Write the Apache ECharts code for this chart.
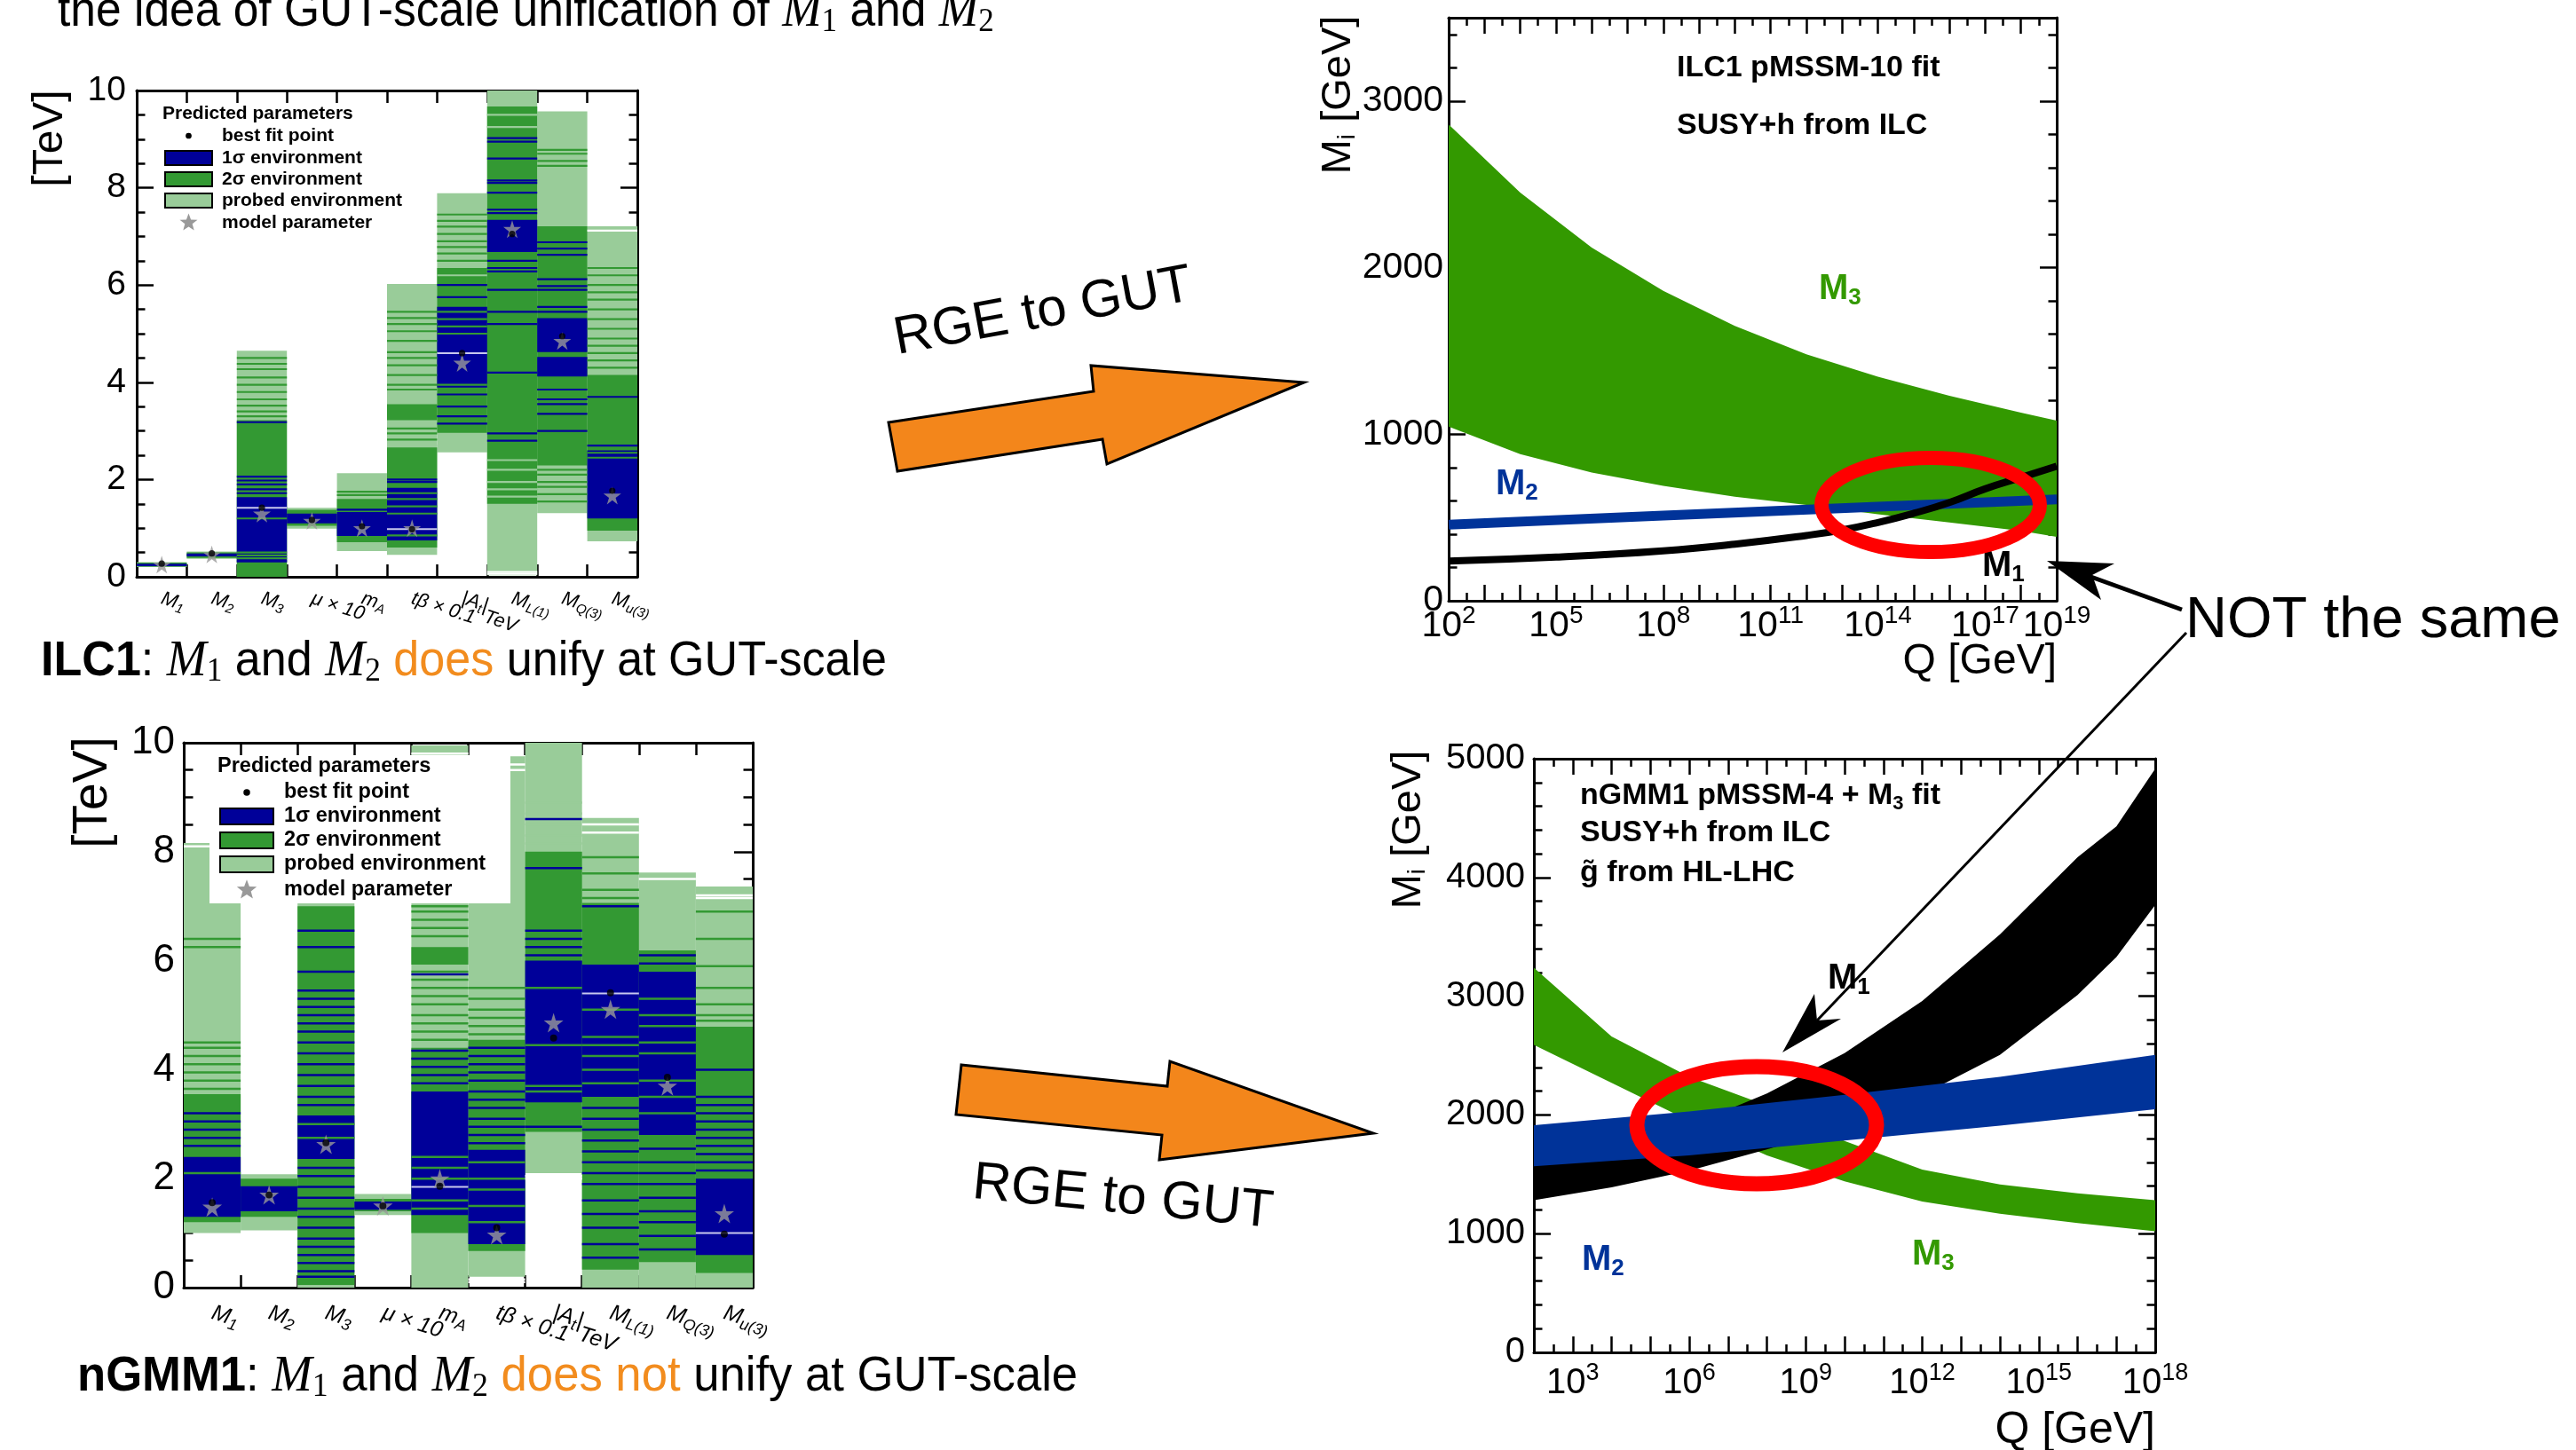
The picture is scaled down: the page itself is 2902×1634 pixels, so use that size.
<!DOCTYPE html>
<html>
<head>
<meta charset="utf-8">
<script src="https://cdn.jsdelivr.net/npm/echarts@6/dist/echarts.min.js"></script>
<style>
html, body { margin: 0; padding: 0; background: #fff; }
#main { width: 2902px; height: 1634px; }
</style>
</head>
<body>
<div id="main"></div>
<script>
const SANS = 'Liberation Sans'
const SERIF = 'Liberation Serif'

// parameter names on the bar charts
const barLabels = ['{i|M}{s|1}', '{i|M}{s|2}', '{i|M}{s|3}', '{i|μ × 10}', '{i|m}{s|A}', '{i|tβ × 0.1}',
    '{i||A}{s|t}{i||}{d|TeV}', '{i|M}{s|L(1)}', '{i|M}{s|Q(3)}', '{i|M}{s|u(3)}']

// ILC1 predicted parameters [TeV] : [column, low, high]
const ilcProbed = [[0,0.20,0.30],[1,0.37,0.52],[2,0.00,4.65],[3,0.99,1.42],[4,0.53,2.13],[5,0.45,6.02],[6,2.56,7.89],[7,0.03,10.0],[8,1.31,9.57],[9,0.73,7.21]]
const ilcSigma2 = [[0,0.21,0.29],[1,0.39,0.50],[2,0.00,3.22],[3,1.05,1.38],[4,0.71,1.60],[5,0.60,2.66],[5,3.22,3.55],[6,2.96,6.35],[7,1.50,9.67],[8,2.29,7.21],[9,0.95,4.15]]
const ilcSigma1 = [[0,0.22,0.27],[1,0.42,0.48],[2,0.30,1.64],[3,1.10,1.30],[4,0.84,1.33],[5,0.75,1.83],[6,3.89,5.55],[7,6.68,7.34],[8,4.12,4.52],[8,4.62,5.32],[9,1.20,2.60]]
// single scan lines inside the environments, per column
const ilcBlueLines = [[], [], [3.18,2.06,1.98,1.90,1.80,1.72,0.32], [], [1.38], [2.00,1.95],
    [6.00,5.75,3.75,3.50,3.30,3.15],
    [9.02,8.95,8.60,8.15,8.10,7.90,7.55,7.48,6.50,6.35,6.28,5.90,5.45,5.20,4.20,2.95,2.80],
    [6.88,6.75,6.62,6.12,5.98,5.90,5.55,5.45,3.85,3.65,3.55,3.35,3.00], [3.70,2.70]]
const ilcGreenLines = [[], [], [4.50,4.38,4.27,4.10,3.95,3.80,3.65,3.52,3.40,3.30,1.20,0.50,0.44,0.38], [], [1.75,1.68],
    [5.45,5.32,5.20,5.05,4.85,4.62,4.50,4.35,4.15,3.95,3.85,3.05,2.95,2.82,1.72,1.60,1.45,1.30,0.85],
    [7.45,7.32,7.20,7.05,6.90,6.78,6.65,6.50,5.45,5.30,5.15,5.00,3.95], [],
    [8.78,8.70,8.55,8.45,2.20,2.10,1.95,1.85,1.70,1.55],
    [6.35,6.20,6.00,5.85,5.70,5.50,5.30,5.10,4.90,4.75,4.60,4.45,4.30,2.55,2.45]]
const ilcLightLines = [[], [], [], [], [], [2.70], [6.20], [9.50,9.25,2.40,2.20,1.95,1.80,1.65], [], []]
const ilcFitLines = [[], [], [1.42], [], [], [0.98], [4.60], [], [], []]
const ilcGapLines = [[], [], [], [], [], [], [], [0.10,0.06], [], [7.12]]
const ilcBest = [0.27, 0.48, 1.42, 1.17, 1.04, 0.98, 4.60, 7.05, 4.95, 1.77]
const ilcModel = [0.25, 0.46, 1.30, 1.15, 1.00, 1.00, 4.40, 7.15, 4.85, 1.67]

// nGMM1 predicted parameters [TeV]
const ngmProbed = [[0,1.00,8.16],[1,1.05,2.08],[2,0.00,7.10],[3,1.33,1.72],[4,0.00,9.95],[5,0.20,9.75],[6,2.10,10.0],[7,0.00,8.62],[8,0.00,7.62],[9,0.00,7.36]]
const ngmSigma2 = [[0,1.20,3.55],[1,1.30,2.00],[2,0.05,7.00],[3,1.40,1.63],[4,1.00,4.40],[4,5.93,6.25],[5,0.67,4.55],[6,2.86,8.00],[7,0.33,7.06],[8,0.47,6.19],[9,0.27,4.79]]
const ngmSigma1 = [[0,1.30,2.40],[1,1.40,1.86],[2,2.36,3.16],[3,1.43,1.58],[4,1.33,3.60],[5,0.80,2.53],[6,3.40,6.00],[7,3.50,5.93],[8,2.80,5.80],[9,0.60,2.00]]
const ngmBlueLines = [[3.20,3.05,2.90,2.75,2.60], [],
    [6.55,6.25,5.80,5.45,5.30,5.15,5.00,4.85,4.70,4.50,4.30,4.10,3.90,3.70,3.50,3.35,2.20,2.05,1.85,1.65,1.45,1.30,1.10,0.90,0.75,0.60,0.45,0.30,0.20],
    [], [5.75,4.35,4.20,4.05,3.90,3.75],
    [4.40,4.25,4.10,3.95,3.80,3.60,3.45,3.30,3.10,2.95,2.80,2.65],
    [8.60,7.70,6.55,6.40,6.25,6.10,2.95],
    [7.00,3.30,3.10,2.90,2.70,2.50,2.30,2.10,1.90,1.60,1.35,1.10,0.80,0.55],
    [6.10,5.95,2.55,2.30,2.10,1.90,1.65,1.40,1.20,0.95,0.70],
    [4.00,3.50,3.35,3.20,3.05,2.90,2.75,2.60,2.45,2.30,2.15]]
const ngmGreenLines = [[6.40,6.25,4.50,4.40,4.25,4.10,3.95,3.80,3.65,2.10], [], [3.00,2.75], [],
    [7.00,6.90,6.75,6.60,6.45,5.80,5.65,5.50,5.35,5.20,5.00,4.85,4.70,4.55,2.40,2.20,2.00,1.60,1.45],
    [5.50,5.30,5.10,4.95,4.80,4.65,2.30,2.00,1.80,1.50,1.20],
    [5.50,4.45,3.70,3.60],
    [7.90,7.60,7.30,7.15,5.10,4.60,4.45,4.25,4.00,3.75],
    [5.30,5.00,4.80,4.50,4.30,3.80,3.50,3.20],
    [6.90,6.40,5.90,5.50,5.20,5.00,4.90]]
const ngmLightLines = [[], [], [], [], [], [], [8.90,8.70,8.50,8.30,8.15], [], [], []]
const ngmFitLines = [[], [], [], [], [1.85], [], [], [5.40], [], [1.00]]
const ngmGapLines = [[8.10], [], [], [], [9.80,9.70], [9.60,9.50,0.15,0.10], [2.05,2.00], [8.50,8.35], [7.50], [7.20,7.15]]
const ngmBest = [1.56, 1.70, 2.66, 1.50, 1.86, 1.10, 4.58, 5.41, 3.86, 0.98]
const ngmModel = [1.48, 1.70, 2.63, 1.50, 2.00, 0.97, 4.86, 5.11, 3.70, 1.36]

// RGE running, x = log10(Q/GeV), y = M_i [GeV]
const ilcM3Band = [[2,1046,2860],[4,880,2450],[6,770,2120],[8,690,1860],[10,625,1650],[12,575,1480],[14,520,1345],[16,470,1230],[18,420,1130],[19,384,1081]]
const ilcM2 = [[2,457],[8,511],[14,565],[19,609]]
const ilcM1 = [[2,238],[5,262],[8,300],[10,340],[12,392],[13,425],[14,470],[15,525],[16,590],[17,672],[18,740],[19,808]]
const ngmM1Band = [[2,1282,1607],[4,1390,1750],[6,1530,1910],[8,1710,2180],[10,1900,2520],[12,2170,2960],[14,2506,3520],[16,3010,4170],[17,3330,4430],[18,3768,4916]]
const ngmM3Band = [[2,2590,3240],[4,2270,2660],[6,1950,2320],[8,1660,2080],[10,1440,1780],[12,1270,1540],[14,1167,1415],[16,1090,1340],[18,1021,1282]]
const ngmM2Band = [[2,1568,1913],[6,1660,2030],[10,1785,2170],[14,1910,2320],[18,2047,2506]]
const ilcDecadeLabels = [2, 5, 8, 11, 14, 17, 19]
const ngmDecadeLabels = [3, 6, 9, 12, 15, 18]

const C_LIGHT = '#99cc99', C_GREEN = '#339933', C_BLUE = '#000099'
const C_M3 = '#339900', C_M2 = '#003399', C_RED = '#ff0000', C_ORANGE = '#f3861b'

const perColumn = (lists) => lists.flatMap((ys, c) => ys.map(y => [c, y]))

function segItem(color) {
    return function (params, api) {
        const c = api.value(0)
        const a = api.coord([c, api.value(1)])
        const b = api.coord([c, api.value(2)])
        const w = api.size([1, 0])[0]
        return { type: 'rect', shape: { x: a[0] - w / 2, y: b[1], width: w, height: a[1] - b[1] }, style: { fill: color } }
    }
}
function lineItem(color, h) {
    return function (params, api) {
        const c = api.value(0)
        const a = api.coord([c, api.value(1)])
        const w = api.size([1, 0])[0]
        return { type: 'rect', shape: { x: a[0] - w / 2, y: a[1] - h / 2, width: w, height: h }, style: { fill: color } }
    }
}
function bandItem(points, color) {
    return function (params, api) {
        if (params.dataIndex !== 0) return null
        const up = points.map(p => api.coord([p[0], p[2]]))
        const lo = points.map(p => api.coord([p[0], p[1]])).reverse()
        return { type: 'polygon', shape: { points: up.concat(lo) }, style: { fill: color } }
    }
}
function custom(ax, data, renderItem, z, ydims) {
    return { type: 'custom', xAxisIndex: ax, yAxisIndex: ax, data: data, renderItem: renderItem, z: z,
        silent: true, clip: true, encode: { x: 0, y: ydims } }
}

const star = 'path://M50,0 L61,35 L98,35 L68,57 L79,91 L50,70 L21,91 L32,57 L2,35 L39,35 Z'
function barSeries(ax, probed, s2, s1, blue, green, light, fit, gap, best, model, h, starSize) {
    return [
        custom(ax, probed, segItem(C_LIGHT), 1, [1, 2]),
        custom(ax, s2, segItem(C_GREEN), 2, [1, 2]),
        custom(ax, s1, segItem(C_BLUE), 3, [1, 2]),
        custom(ax, perColumn(light), lineItem(C_LIGHT, h), 4, [1]),
        custom(ax, perColumn(green), lineItem(C_GREEN, h), 4, [1]),
        custom(ax, perColumn(blue), lineItem(C_BLUE, h), 4, [1]),
        custom(ax, perColumn(gap), lineItem('#ffffff', h), 4, [1]),
        custom(ax, perColumn(fit), lineItem('#c8c8ee', 2), 4, [1]),
        { type: 'scatter', xAxisIndex: ax, yAxisIndex: ax, z: 5, silent: true, symbol: star, symbolSize: starSize,
          itemStyle: { color: '#999999' }, data: model.map((v, i) => [i, v]) },
        { type: 'scatter', xAxisIndex: ax, yAxisIndex: ax, z: 6, silent: true, symbol: 'circle', symbolSize: starSize * 0.36,
          itemStyle: { color: '#000' }, data: best.map((v, i) => [i, v]) }
    ]
}

const blackLine = { color: '#000', width: 3 }
const tickLine = { color: '#000', width: 2.5 }

function catAxis(gi, pos, fs, margin) {
    return {
        type: 'category', gridIndex: gi, position: pos, data: barLabels, boundaryGap: true,
        axisLine: { show: true, onZero: false, lineStyle: blackLine },
        axisTick: { show: true, inside: true, interval: 0, length: 14, lineStyle: tickLine },
        axisLabel: {
            show: pos === 'bottom', interval: 0, rotate: -18, margin: margin, color: '#000',
            rich: {
                i: { fontFamily: SANS, fontStyle: 'italic', fontSize: fs, color: '#000' },
                s: { fontFamily: SANS, fontStyle: 'italic', fontSize: Math.round(fs * 0.7), color: '#000', padding: [Math.round(fs * 0.55), 0, 0, 0] },
                d: { fontFamily: SANS, fontStyle: 'italic', fontSize: fs, color: '#000', padding: [Math.round(fs * 1.1), 0, 0, 0] }
            }
        },
        splitLine: { show: false }
    }
}
function valAxis(gi, pos, max, interval, minorN, len, fs, margin, showMax) {
    return {
        type: 'value', gridIndex: gi, position: pos, min: 0, max: max, interval: interval,
        axisLine: { show: true, onZero: false, lineStyle: blackLine },
        axisTick: { show: true, inside: true, length: len, lineStyle: tickLine },
        minorTick: { show: true, splitNumber: minorN, length: len / 2, lineStyle: tickLine },
        axisLabel: { show: pos === 'left', fontFamily: SANS, fontSize: fs, color: '#000', margin: margin, showMaxLabel: showMax,
            formatter: (v) => String(v) },
        splitLine: { show: false }, minorSplitLine: { show: false }
    }
}
function logAxis(gi, pos, min, max, labels, fs, margin) {
    return {
        type: 'value', gridIndex: gi, position: pos, min: min, max: max, interval: 1,
        axisLine: { show: true, onZero: false, lineStyle: blackLine },
        axisTick: { show: true, inside: true, length: 18, lineStyle: tickLine },
        minorTick: { show: true, splitNumber: 2, length: 9, lineStyle: tickLine },
        axisLabel: {
            show: pos === 'bottom', margin: margin, color: '#000', showMinLabel: true, showMaxLabel: true,
            formatter: (v) => labels.includes(Math.round(v)) ? '{b|10}{p|' + Math.round(v) + '}' : '',
            rich: {
                b: { fontFamily: SANS, fontSize: fs, color: '#000' },
                p: { fontFamily: SANS, fontSize: Math.round(fs * 0.68), color: '#000', padding: [0, 0, Math.round(fs * 0.55), 0] }
            }
        },
        splitLine: { show: false }, minorSplitLine: { show: false }
    }
}

// ---------- annotations ----------
function txt(x, y, text, rich, extra) {
    return Object.assign({ type: 'text', x: x, y: y, z: 50, silent: true,
        style: { text: text, rich: rich, textAlign: 'left', textVerticalAlign: 'middle', fill: '#000' } }, extra || {})
}
const slideRich = {
    t: { fontFamily: SANS, fontSize: 56, fill: '#000' },
    b: { fontFamily: SANS, fontSize: 56, fontWeight: 'bold', fill: '#000' },
    o: { fontFamily: SANS, fontSize: 56, fill: '#f28c1e' },
    m: { fontFamily: SERIF, fontStyle: 'italic', fontSize: 58, fill: '#000' },
    s: { fontFamily: SERIF, fontSize: 38, fill: '#000', padding: [22, 0, 0, 0] }
}
function rootRich(fs, color) {
    return {
        b: { fontFamily: SANS, fontWeight: 'bold', fontSize: fs, fill: color },
        s: { fontFamily: SANS, fontWeight: 'bold', fontSize: Math.round(fs * 0.65), fill: color, padding: [Math.round(fs * 0.5), 0, 0, 0] }
    }
}
function axisTitle(x, y, text, fs, rot, align) {
    return { type: 'text', x: x, y: y, z: 50, silent: true, rotation: rot,
        style: { text: text, textAlign: align, textVerticalAlign: 'middle', fill: '#000', rich: {
            n: { fontFamily: SANS, fontSize: fs, fill: '#000' },
            s: { fontFamily: SANS, fontSize: Math.round(fs * 0.6), fill: '#000', padding: [Math.round(fs * 0.45), 0, 0, 0] } } } }
}
function starPoints(cx, cy, R) {
    const pts = []
    for (let k = 0; k < 10; k++) {
        const r = k % 2 === 0 ? R : R * 0.42
        const a = -Math.PI / 2 + k * Math.PI / 5
        pts.push([cx + r * Math.cos(a), cy + r * Math.sin(a)])
    }
    return pts
}
function legend(hx, hy, rows, boxX, boxW, boxH, textX, fs) {
    const items = []
    const font = { fontFamily: SANS, fontWeight: 'bold', fontSize: fs }
    const label = (x, y, t) => ({ type: 'text', x: x, y: y, z: 60, silent: true,
        style: Object.assign({ text: t, fill: '#000', textAlign: 'left', textVerticalAlign: 'middle' }, font) })
    items.push(label(hx, hy, 'Predicted parameters'))
    const cx = boxX + boxW / 2
    items.push({ type: 'circle', z: 60, silent: true, shape: { cx: cx, cy: rows[0], r: fs * 0.16 }, style: { fill: '#000' } })
    const fills = [C_BLUE, C_GREEN, C_LIGHT]
    for (let k = 0; k < 3; k++) {
        items.push({ type: 'rect', z: 60, silent: true, shape: { x: boxX, y: rows[k + 1] - boxH / 2, width: boxW, height: boxH },
            style: { fill: fills[k], stroke: '#000', lineWidth: 2 } })
    }
    items.push({ type: 'polygon', z: 60, silent: true, shape: { points: starPoints(cx, rows[4], fs * 0.5) }, style: { fill: '#999999' } })
    const names = ['best fit point', '1σ environment', '2σ environment', 'probed environment', 'model parameter']
    names.forEach((n, k) => items.push(label(textX, rows[k], n)))
    return items
}
function arrowHead(pts) {
    return { type: 'polygon', z: 70, silent: true, shape: { points: pts }, style: { fill: '#000' } }
}

const graphics = [
    txt(65, 14, '{t|the idea of GUT-scale unification of }{m|M}{s|1}{t| and }{m|M}{s|2}', slideRich, { scaleX: 0.92 }),
    txt(46, 746, '{b|ILC1}{t|: }{m|M}{s|1}{t| and }{m|M}{s|2}{o| does}{t| unify at GUT-scale}', slideRich, { scaleX: 0.93 }),
    txt(87, 1552, '{b|nGMM1}{t|: }{m|M}{s|1}{t| and }{m|M}{s|2}{o| does not}{t| unify at GUT-scale}', slideRich, { scaleX: 0.94 }),
    // axis titles
    axisTitle(57, 156, '{n|[TeV]}', 48, Math.PI / 2, 'center'),
    axisTitle(105, 893, '{n|[TeV]}', 55, Math.PI / 2, 'center'),
    axisTitle(1508, 107, '{n|M}{s|i}{n| [GeV]}', 47, Math.PI / 2, 'center'),
    axisTitle(1587, 935, '{n|M}{s|i}{n| [GeV]}', 47, Math.PI / 2, 'center'),
    axisTitle(2317, 746, '{n|Q [GeV]}', 48, 0, 'right'),
    axisTitle(2428, 1612, '{n|Q [GeV]}', 50, 0, 'right'),
    // white legend background in the nGMM1 plot
    { type: 'rect', z: 55, silent: true, shape: { x: 236, y: 851, width: 339, height: 167 }, style: { fill: '#fff' } },
    ...legend(183, 128, [153, 178, 202, 226, 251], 186, 53, 16, 250, 21),
    ...legend(245, 864, [893, 920, 947, 974, 1003], 248, 60, 18, 320, 23.5),
    // texts inside the running plots
    txt(1889, 77, '{b|ILC1 pMSSM-10 fit}', rootRich(34, '#000')),
    txt(1889, 142, '{b|SUSY+h from ILC}', rootRich(34, '#000')),
    txt(2049, 326, '{b|M}{s|3}', rootRich(40, C_M3)),
    txt(1685, 546, '{b|M}{s|2}', rootRich(40, C_M2)),
    txt(2233, 638, '{b|M}{s|1}', rootRich(40, '#000')),
    txt(1780, 897, '{b|nGMM1 pMSSM-4 + M}{s|3}{b| fit}', rootRich(34, '#000')),
    txt(1780, 939, '{b|SUSY+h from ILC}', rootRich(34, '#000')),
    txt(1780, 984, '{b|g\u0303 from HL-LHC}', rootRich(34, '#000')),
    txt(2059, 1103, '{b|M}{s|1}', rootRich(40, '#000')),
    txt(1782, 1420, '{b|M}{s|2}', rootRich(40, C_M2)),
    txt(2154, 1414, '{b|M}{s|3}', rootRich(40, C_M3)),
    // red ellipses
    { type: 'ellipse', z: 60, silent: true, shape: { cx: 2175, cy: 569, rx: 123, ry: 53 }, style: { fill: null, stroke: C_RED, lineWidth: 16 } },
    { type: 'ellipse', z: 60, silent: true, shape: { cx: 1979, cy: 1268, rx: 135, ry: 66 }, style: { fill: null, stroke: C_RED, lineWidth: 17 } },
    // orange arrows with their labels
    { type: 'polygon', z: 60, silent: true, shape: { points: [[1001,476],[1232,441],[1229,412],[1469,431],[1247,523],[1242,495],[1011,531]] },
      style: { fill: C_ORANGE, stroke: '#000', lineWidth: 3 } },
    { type: 'polygon', z: 60, silent: true, shape: { points: [[1083,1200],[1315,1224],[1318,1196],[1547,1277],[1306,1307],[1309,1279],[1077,1256]] },
      style: { fill: C_ORANGE, stroke: '#000', lineWidth: 3 } },
    { type: 'text', x: 1175, y: 352, z: 60, rotation: 0.183, silent: true,
      style: { text: 'RGE to GUT', fontFamily: SANS, fontSize: 60, fill: '#000', textAlign: 'center', textVerticalAlign: 'middle' } },
    { type: 'text', x: 1265, y: 1350, z: 60, rotation: -0.098, silent: true,
      style: { text: 'RGE to GUT', fontFamily: SANS, fontSize: 60, fill: '#000', textAlign: 'center', textVerticalAlign: 'middle' } },
    // NOT the same
    { type: 'text', x: 2462, y: 700, z: 60, silent: true,
      style: { text: 'NOT the same', fontFamily: SANS, fontSize: 65, fill: '#000', textAlign: 'left', textVerticalAlign: 'middle' } },
    { type: 'line', z: 70, silent: true, shape: { x1: 2458, y1: 687, x2: 2350, y2: 648 }, style: { stroke: '#000', lineWidth: 5 } },
    arrowHead([[2306,632],[2382,635],[2357,648],[2367,676]]),
    { type: 'line', z: 70, silent: true, shape: { x1: 2463, y1: 713, x2: 2047, y2: 1150 }, style: { stroke: '#000', lineWidth: 3 } },
    arrowHead([[2008,1186],[2044,1120],[2047,1150],[2074,1148]])
]

const option = {
    backgroundColor: '#ffffff',
    animation: false,
    grid: [
        { left: 154, top: 102, width: 564, height: 548, outerBoundsMode: 'none' },
        { left: 207, top: 837, width: 641, height: 614, outerBoundsMode: 'none' },
        { left: 1632, top: 20, width: 685, height: 657, outerBoundsMode: 'none' },
        { left: 1728, top: 855, width: 700, height: 669, outerBoundsMode: 'none' }
    ],
    xAxis: [
        catAxis(0, 'bottom', 22, 24), catAxis(0, 'top', 22, 24),
        catAxis(1, 'bottom', 25, 28), catAxis(1, 'top', 25, 28),
        logAxis(2, 'bottom', 2, 19, ilcDecadeLabels, 41, 3), logAxis(2, 'top', 2, 19, ilcDecadeLabels, 41, 3),
        logAxis(3, 'bottom', 2, 18, ngmDecadeLabels, 40, 10), logAxis(3, 'top', 2, 18, ngmDecadeLabels, 40, 10)
    ],
    yAxis: [
        valAxis(0, 'left', 10, 2, 4, 19, 39, 12, true), valAxis(0, 'right', 10, 2, 4, 19, 39, 12, true),
        valAxis(1, 'left', 10, 2, 4, 21, 44, 10, true), valAxis(1, 'right', 10, 2, 4, 21, 44, 10, true),
        valAxis(2, 'left', 3500, 1000, 5, 19, 41, 6, false), valAxis(2, 'right', 3500, 1000, 5, 19, 41, 6, false),
        valAxis(3, 'left', 5000, 1000, 5, 19, 40, 10, true), valAxis(3, 'right', 5000, 1000, 5, 19, 40, 10, true)
    ],
    series: [
        ...barSeries(0, ilcProbed, ilcSigma2, ilcSigma1, ilcBlueLines, ilcGreenLines, ilcLightLines, ilcFitLines, ilcGapLines, ilcBest, ilcModel, 2.2, 20),
        ...barSeries(2, ngmProbed, ngmSigma2, ngmSigma1, ngmBlueLines, ngmGreenLines, ngmLightLines, ngmFitLines, ngmGapLines, ngmBest, ngmModel, 2.5, 22),
        custom(4, ilcM3Band, bandItem(ilcM3Band, C_M3), 2, [1, 2]),
        { type: 'line', xAxisIndex: 4, yAxisIndex: 4, z: 3, silent: true, showSymbol: false, data: ilcM2,
          lineStyle: { color: C_M2, width: 11 } },
        { type: 'line', xAxisIndex: 4, yAxisIndex: 4, z: 4, silent: true, showSymbol: false, smooth: true, data: ilcM1,
          lineStyle: { color: '#000', width: 8 } },
        custom(6, ngmM3Band, bandItem(ngmM3Band, C_M3), 2, [1, 2]),
        custom(6, ngmM1Band, bandItem(ngmM1Band, '#000'), 3, [1, 2]),
        custom(6, ngmM2Band, bandItem(ngmM2Band, C_M2), 4, [1, 2])
    ],
    graphic: graphics
}

const chart = echarts.init(document.getElementById('main'))
chart.setOption(option)
</script>
</body>
</html>
